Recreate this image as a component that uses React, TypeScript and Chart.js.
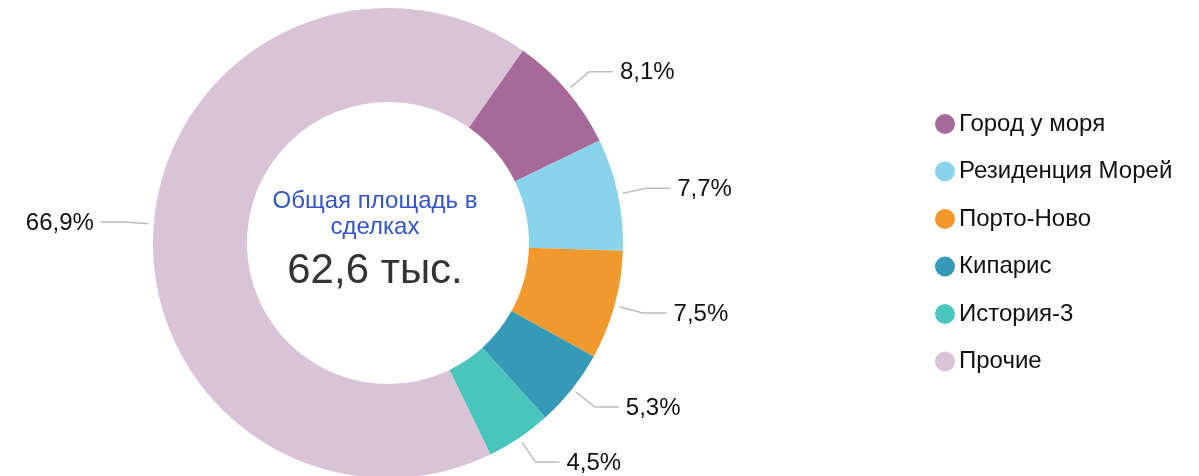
import React, { useEffect, useRef } from 'react';
import { Chart, registerables } from 'chart.js';

Chart.register(...registerables);

const categories = ['Город у моря', 'Резиденция Морей', 'Порто-Ново', 'Кипарис', 'История-3', 'Прочие'];
const shares = [8.1, 7.7, 7.5, 5.3, 4.5, 66.9];
const colors = ['#A66999', '#8AD4EB', '#F2992E', '#3599B8', '#4AC5BB', '#D9C3D6'];
const centerTitle = ['Общая площадь в', 'сделках'];
const centerValue = '62,6 тыс.';

const FONT = '"Liberation Sans", Arial, sans-serif';

const fmtPct = (v: number, total: number) => ((v / total) * 100).toFixed(1).replace('.', ',') + '%';

const outLabelsPlugin = {
  id: 'outLabels',
  afterDatasetsDraw(chart: any) {
    const ctx = chart.ctx;
    const meta = chart.getDatasetMeta(0);
    const data = chart.data.datasets[0].data as number[];
    const total = data.reduce((a, b) => a + b, 0);
    ctx.save();
    meta.data.forEach((arc: any, i: number) => {
      const { x, y, startAngle, endAngle, outerRadius } = arc.getProps(
        ['x', 'y', 'startAngle', 'endAngle', 'outerRadius'],
        true
      );
      const mid = (startAngle + endAngle) / 2;
      const c = Math.cos(mid);
      const s = Math.sin(mid);
      const x1 = x + c * (outerRadius + 5);
      const y1 = y + s * (outerRadius + 5);
      const x2 = x + c * (outerRadius + 29);
      const y2 = y + s * (outerRadius + 29);
      const dir = c >= 0 ? 1 : -1;
      const x3 = x2 + dir * 24;
      ctx.strokeStyle = '#bdbdbd';
      ctx.lineWidth = 1.5;
      ctx.beginPath();
      ctx.moveTo(x1, y1);
      ctx.lineTo(x2, y2);
      ctx.lineTo(x3, y2);
      ctx.stroke();
      ctx.fillStyle = '#111111';
      ctx.font = '24px ' + FONT;
      ctx.textAlign = dir > 0 ? 'left' : 'right';
      ctx.textBaseline = 'middle';
      ctx.fillText(fmtPct(data[i], total), x3 + dir * 7, y2 + 1);
    });
    ctx.restore();
  },
};

const centerTextPlugin = {
  id: 'centerText',
  afterDraw(chart: any) {
    const ctx = chart.ctx;
    const arc = chart.getDatasetMeta(0).data[0];
    if (!arc) return;
    const { x, y } = arc.getProps(['x', 'y'], true);
    const cx = x - 13;
    ctx.save();
    ctx.textAlign = 'center';
    ctx.textBaseline = 'middle';
    ctx.fillStyle = '#3355CC';
    ctx.font = '24px ' + FONT;
    ctx.fillText(centerTitle[0], cx, y - 42);
    ctx.fillText(centerTitle[1], cx, y - 16);
    ctx.fillStyle = '#333333';
    ctx.font = '42px ' + FONT;
    ctx.fillText(centerValue, cx, y + 28);
    ctx.restore();
  },
};

const legendPlugin = {
  id: 'sideLegend',
  afterDraw(chart: any) {
    const ctx = chart.ctx;
    const labels = chart.data.labels as string[];
    const bg = chart.data.datasets[0].backgroundColor as string[];
    ctx.save();
    labels.forEach((lab, i) => {
      const cy = 124 + i * 47.5;
      ctx.fillStyle = bg[i];
      ctx.beginPath();
      ctx.arc(945, cy, 10, 0, Math.PI * 2);
      ctx.fill();
      ctx.fillStyle = '#111111';
      ctx.font = '24px ' + FONT;
      ctx.textAlign = 'left';
      ctx.textBaseline = 'middle';
      ctx.fillText(lab, 959, cy);
    });
    ctx.restore();
  },
};

export default function App() {
  const ref = useRef<HTMLCanvasElement | null>(null);
  useEffect(() => {
    if (!ref.current) return;
    const chart = new Chart(ref.current, {
      type: 'doughnut',
      data: {
        labels: categories,
        datasets: [
          {
            data: shares,
            backgroundColor: colors,
            borderWidth: 0,
            hoverOffset: 0,
          },
        ],
      },
      options: {
        responsive: false,
        animation: false,
        rotation: 35,
        cutout: '60%',
        layout: { padding: { left: 153, right: 576, top: 8, bottom: 12 } },
        plugins: {
          legend: { display: false },
          tooltip: { enabled: false },
        },
      },
      plugins: [outLabelsPlugin, centerTextPlugin, legendPlugin],
    });
    return () => chart.destroy();
  }, []);
  return (
    <div style={{ position: 'fixed', left: 0, top: 0, width: 1199, height: 476, overflow: 'hidden', background: '#fff' }}>
      <canvas ref={ref} width={1199} height={490} style={{ display: 'block' }} />
    </div>
  );
}
